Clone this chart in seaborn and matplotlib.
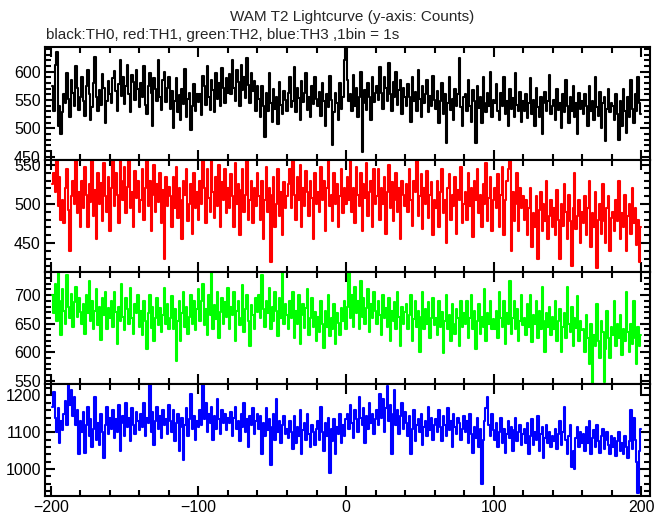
import numpy as np
import pandas as pd
import matplotlib
matplotlib.use("Agg")
import matplotlib.pyplot as plt
from matplotlib.ticker import MultipleLocator
import seaborn as sns

# time bins (1 bin = 1 s), -199 .. 200
time_s = np.arange(-199, 201)

th0 = [
    575, 530, 612, 635, 505, 540, 490, 528, 560, 545, 598, 552, 520, 585, 563, 540, 610, 571, 533, 556,
    590, 548, 522, 575, 603, 560, 515, 538, 580, 626, 555, 530, 567, 541, 596, 572, 510, 548, 583, 560,
    545, 588, 601, 566, 530, 579, 620, 557, 590, 543, 574, 612, 560, 528, 595, 581, 550, 603, 569, 537,
    580, 556, 610, 542, 525, 575, 598, 563, 504, 589, 570, 548, 621, 556, 533, 585, 600, 546, 571, 590,
    535, 566, 500, 548, 588, 529, 559, 515, 570, 543, 605, 520, 551, 562, 498, 540, 578, 531, 560, 547,
    560, 523, 592, 575, 541, 610, 556, 533, 585, 567, 528, 598, 552, 580, 540, 607, 571, 545, 588, 563,
    596, 560, 620, 571, 549, 603, 582, 540, 612, 568, 590, 553, 625, 577, 545, 598, 566, 584, 530, 575,
    552, 520, 575, 540, 485, 563, 530, 598, 545, 512, 570, 535, 556, 508, 582, 541, 525, 566, 550, 531,
    562, 590, 537, 548, 608, 529, 571, 554, 515, 583, 547, 562, 598, 533, 556, 520, 575, 543, 590, 551,
    540, 565, 522, 580, 548, 505, 560, 537, 592, 550, 470, 528, 563, 545, 515, 580, 535, 556, 620, 660,
    585, 548, 560, 530, 595, 540, 572, 520, 556, 600, 458, 545, 568, 532, 580, 555, 515, 590, 547, 563,
    575, 550, 608, 562, 535, 590, 571, 548, 615, 560, 530, 582, 556, 600, 541, 568, 585, 525, 572, 555,
    540, 578, 556, 512, 590, 548, 565, 530, 603, 551, 520, 575, 545, 560, 585, 528, 557, 540, 592, 550,
    535, 566, 510, 548, 580, 525, 560, 475, 545, 590, 532, 552, 515, 570, 540, 560, 625, 538, 505, 556,
    560, 530, 585, 540, 512, 568, 548, 475, 575, 536, 555, 510, 590, 545, 528, 563, 540, 600, 520, 550,
    545, 578, 530, 515, 562, 540, 590, 525, 548, 505, 570, 535, 553, 520, 597, 541, 530, 565, 512, 548,
    530, 560, 518, 545, 588, 526, 550, 505, 572, 538, 520, 556, 490, 545, 565, 530, 548, 595, 525, 540,
    550, 515, 570, 532, 545, 500, 560, 528, 585, 540, 510, 555, 530, 575, 520, 545, 490, 562, 535, 548,
    525, 560, 540, 505, 575, 530, 548, 515, 590, 538, 522, 565, 500, 545, 556, 478, 535, 570, 528, 545,
    540, 515, 560, 525, 480, 548, 505, 570, 530, 492, 555, 520, 585, 535, 510, 560, 530, 590, 545, 525,
]

th1 = [
    525, 540, 515, 562, 498, 535, 480, 505, 475, 520, 545, 492, 440, 510, 530, 500, 558, 488, 515, 470,
    530, 495, 548, 512, 470, 525, 503, 560, 485, 518, 455, 540, 500, 527, 478, 552, 510, 490, 535, 465,
    520, 558, 498, 540, 512, 475, 563, 530, 505, 548, 488, 522, 560, 495, 515, 470, 542, 508, 530, 490,
    505, 545, 480, 520, 560, 497, 530, 465, 512, 550, 490, 525, 503, 540, 475, 518, 430, 535, 498, 522,
    510, 470, 535, 495, 548, 482, 520, 505, 455, 530, 512, 545, 478, 500, 525, 462, 540, 495, 515, 480,
    530, 500, 558, 520, 475, 545, 508, 490, 562, 515, 482, 535, 498, 550, 470, 528, 505, 545, 488, 520,
    495, 538, 510, 470, 552, 500, 525, 460, 518, 545, 490, 512, 565, 480, 505, 530, 475, 520, 498, 540,
    510, 480, 530, 455, 505, 548, 490, 520, 426, 512, 535, 470, 500, 545, 485, 515, 460, 528, 495, 510,
    525, 545, 495, 560, 512, 480, 535, 505, 550, 470, 520, 498, 542, 515, 485, 530, 508, 455, 540, 500,
    515, 490, 548, 505, 530, 465, 520, 555, 498, 512, 478, 540, 500, 525, 470, 510, 545, 488, 520, 500,
    535, 505, 560, 490, 520, 475, 548, 512, 498, 540, 465, 525, 508, 552, 485, 515, 530, 470, 545, 500,
    510, 545, 480, 520, 500, 535, 462, 515, 550, 495, 528, 478, 505, 540, 490, 520, 455, 530, 512, 498,
    525, 490, 545, 505, 472, 530, 515, 555, 485, 510, 538, 468, 520, 500, 542, 482, 512, 528, 460, 505,
    495, 530, 470, 515, 545, 488, 505, 450, 520, 538, 480, 512, 498, 535, 462, 518, 505, 548, 475, 500,
    515, 480, 540, 498, 520, 458, 530, 505, 545, 488, 512, 470, 525, 500, 552, 478, 508, 535, 465, 505,
    520, 495, 538, 470, 512, 548, 460, 505, 530, 545, 565, 440, 515, 478, 500, 540, 465, 520, 495, 510,
    480, 505, 460, 495, 520, 445, 488, 470, 510, 430, 492, 515, 465, 500, 478, 530, 455, 485, 505, 470,
    495, 460, 518, 480, 430, 500, 472, 525, 490, 455, 512, 478, 420, 495, 540, 468, 485, 505, 450, 490,
    475, 510, 460, 495, 530, 445, 488, 470, 515, 418, 480, 500, 462, 525, 478, 450, 495, 510, 440, 482,
    490, 465, 505, 478, 530, 455, 488, 470, 512, 440, 485, 500, 462, 520, 475, 495, 448, 480, 425, 470,
]

th2 = [
    700, 668, 720, 655, 740, 690, 630, 710, 672, 650, 735, 680, 660, 702, 645, 688, 715, 662, 695, 670,
    650, 685, 632, 700, 668, 725, 655, 690, 640, 672, 710, 648, 680, 622, 695, 665, 705, 640, 678, 660,
    690, 645, 705, 670, 615, 680, 655, 720, 662, 638, 695, 675, 650, 712, 660, 632, 685, 668, 700, 645,
    672, 630, 690, 655, 605, 668, 700, 642, 680, 620, 660, 695, 648, 678, 635, 665, 712, 650, 685, 640,
    660, 698, 640, 675, 585, 655, 690, 620, 668, 705, 645, 680, 632, 662, 700, 650, 690, 638, 675, 710,
    655, 690, 720, 648, 675, 630, 700, 665, 740, 640, 682, 658, 705, 625, 670, 695, 650, 688, 662, 712,
    640, 680, 665, 705, 620, 672, 690, 648, 660, 718, 635, 675, 700, 655, 610, 682, 665, 640, 695, 670,
    700, 660, 735, 675, 645, 690, 668, 712, 640, 680, 655, 705, 672, 628, 695, 660, 740, 650, 685, 665,
    640, 690, 660, 705, 625, 672, 650, 700, 615, 665, 685, 642, 678, 710, 630, 660, 695, 645, 670, 620,
    662, 635, 690, 650, 608, 672, 645, 700, 628, 660, 640, 685, 615, 668, 652, 630, 678, 655, 690, 640,
    680, 742, 660, 700, 645, 715, 668, 690, 640, 725, 662, 695, 650, 678, 710, 635, 685, 660, 705, 672,
    650, 690, 665, 630, 700, 660, 678, 645, 695, 620, 672, 655, 688, 640, 705, 662, 610, 680, 650, 670,
    685, 640, 665, 700, 620, 658, 690, 645, 672, 600, 662, 705, 640, 675, 650, 688, 625, 660, 695, 648,
    660, 630, 690, 645, 670, 598, 655, 700, 640, 665, 620, 685, 650, 632, 675, 660, 610, 690, 645, 668,
    650, 690, 625, 660, 700, 640, 672, 605, 655, 685, 632, 662, 645, 710, 620, 668, 650, 690, 640, 658,
    640, 672, 625, 705, 660, 645, 690, 615, 668, 650, 725, 632, 660, 690, 640, 675, 620, 655, 700, 648,
    660, 630, 685, 645, 700, 618, 665, 650, 690, 625, 672, 640, 715, 655, 600, 668, 645, 680, 630, 662,
    640, 690, 620, 655, 675, 600, 645, 668, 625, 715, 650, 635, 680, 610, 660, 642, 698, 620, 655, 638,
    640, 600, 665, 625, 580, 650, 545, 630, 610, 685, 620, 590, 655, 635, 548, 605, 672, 625, 590, 645,
    630, 690, 610, 650, 625, 665, 595, 640, 620, 705, 635, 600, 650, 615, 690, 625, 580, 645, 610, 630,
]

th3 = [
    1170, 1210, 1140, 1100, 1165, 1070, 1130, 1105, 1150, 1185, 1120, 1230, 1175, 1215, 1145, 1195, 1120, 1160, 1040, 1130,
    1100, 1155, 1045, 1120, 1170, 1090, 1135, 1060, 1110, 1195, 1080, 1125, 1065, 1150, 1100, 1030, 1120, 1170, 1095, 1140,
    1110, 1160, 1085, 1135, 1100, 1175, 1050, 1125, 1145, 1090, 1180, 1115, 1140, 1075, 1165, 1120, 1095, 1155, 1130, 1105,
    1150, 1115, 1180, 1090, 1140, 1125, 1230, 1100, 1155, 1065, 1130, 1170, 1110, 1145, 1085, 1160, 1120, 1135, 1095, 1175,
    1130, 1100, 1160, 1075, 1125, 1150, 1050, 1115, 1140, 1025, 1120, 1165, 1090, 1135, 1205, 1110, 1145, 1080, 1130, 1115,
    1160, 1120, 1230, 1135, 1180, 1100, 1150, 1125, 1170, 1080, 1145, 1110, 1190, 1135, 1095, 1160, 1125, 1150, 1105, 1140,
    1125, 1155, 1090, 1140, 1170, 1110, 1130, 1075, 1150, 1115, 1180, 1100, 1135, 1060, 1145, 1120, 1165, 1095, 1130, 1150,
    1110, 1145, 1040, 1125, 1090, 1165, 1105, 1135, 1010, 1115, 1150, 1080, 1190, 1100, 1130, 1070, 1120, 1145, 1095, 1110,
    1085, 1130, 1100, 1055, 1145, 1070, 1115, 1090, 1160, 1040, 1105, 1125, 1080, 1150, 1095, 1060, 1120, 1100, 1065, 1110,
    1130, 1080, 1170, 1100, 1050, 1125, 1090, 1140, 990, 1110, 1075, 1135, 1040, 1115, 1095, 1150, 1070, 1120, 1090, 1135,
    1150, 1110, 1175, 1125, 1085, 1160, 1135, 1100, 1195, 1140, 1120, 1165, 1070, 1145, 1110, 1180, 1125, 1150, 1095, 1135,
    1160, 1120, 1205, 1140, 1190, 1100, 1165, 1225, 1130, 1175, 1040, 1150, 1215, 1120, 1160, 1095, 1145, 1180, 1110, 1155,
    1125, 1090, 1145, 1040, 1110, 1160, 1075, 1120, 1135, 1100, 1150, 1065, 1115, 1130, 1090, 1170, 1105, 1140, 1080, 1120,
    1135, 1100, 1160, 1115, 1075, 1145, 1120, 1090, 1165, 1105, 1130, 1060, 1150, 1115, 1095, 1140, 1125, 1080, 1110, 1145,
    1100, 1130, 1070, 1150, 1095, 1045, 1115, 1085, 1140, 1060, 1110, 960, 1080, 1130, 1165, 1195, 1120, 1090, 1150, 1105,
    1080, 1125, 1060, 1100, 1140, 1070, 1110, 1045, 1095, 1130, 1085, 1115, 1050, 1105, 1140, 1075, 1100, 1120, 1065, 1095,
    1110, 1070, 1125, 1040, 1090, 1135, 1065, 1100, 1080, 1145, 1050, 1095, 1115, 1030, 1085, 1120, 1070, 1100, 1060, 1090,
    1075, 1110, 1055, 1095, 1130, 1065, 1100, 1170, 1080, 1040, 1090, 1120, 1005, 1050, 1000, 1085, 1115, 1060, 1100, 1070,
    1095, 1050, 1115, 1070, 1130, 1040, 1085, 1105, 1060, 1120, 1075, 1045, 1090, 1110, 1055, 1080, 1100, 1065, 1040, 1090,
    1060, 1085, 1035, 1075, 1100, 1050, 1070, 1040, 1090, 1060, 1030, 1075, 1160, 1055, 1140, 1080, 1020, 935, 1050, 1110,
]

series = [th0, th1, th2, th3]
colors = ["#000000", "#ff0000", "#00ff00", "#0000ff"]
ylims = [(445, 643), (413, 557), (544, 741), (926, 1231)]
ymajor = [50, 50, 50, 100]
yminor = [10, 10, 10, 20]

sns.set_style("ticks")
plt.rcParams["font.family"] = ["Liberation Sans", "DejaVu Sans"]

fig = plt.figure(figsize=(6.69, 5.15), dpi=100)
left, right = 45 / 669, 650 / 669
top_px, panel_px = 47.3, 112.25

for i, (vals, col) in enumerate(zip(series, colors)):
    y0 = 1 - (top_px + (i + 1) * panel_px) / 515
    ax = fig.add_axes([left, y0, right - left, panel_px / 515])
    df = pd.DataFrame({"t": time_s, "counts": vals})
    sns.lineplot(data=df, x="t", y="counts", ax=ax, color=col, linewidth=1.5,
                 drawstyle="steps-mid", estimator=None)
    ax.set_xlim(-204, 206)
    ax.set_ylim(*ylims[i])
    ax.set_xlabel("")
    ax.set_ylabel("")
    ax.xaxis.set_major_locator(MultipleLocator(100))
    ax.xaxis.set_minor_locator(MultipleLocator(20))
    ax.yaxis.set_major_locator(MultipleLocator(ymajor[i]))
    ax.yaxis.set_minor_locator(MultipleLocator(yminor[i]))
    ax.tick_params(which="both", direction="in", top=True, right=True,
                   labelsize=11.5, colors="black", width=1.5, pad=3)
    ax.tick_params(which="major", length=7)
    ax.tick_params(which="minor", length=4)
    for sp in ax.spines.values():
        sp.set_linewidth(1.5)
        sp.set_color("black")
    if i < 3:
        ax.tick_params(labelbottom=False)

fig.text(352 / 669, 1 - 17 / 515, "WAM T2 Lightcurve (y-axis: Counts)",
         ha="center", va="center", fontsize=11)
fig.text(46 / 669, 1 - 35 / 515, "black:TH0, red:TH1, green:TH2, blue:TH3 ,1bin = 1s",
         ha="left", va="center", fontsize=11)

fig.savefig("out.png", dpi=100)
